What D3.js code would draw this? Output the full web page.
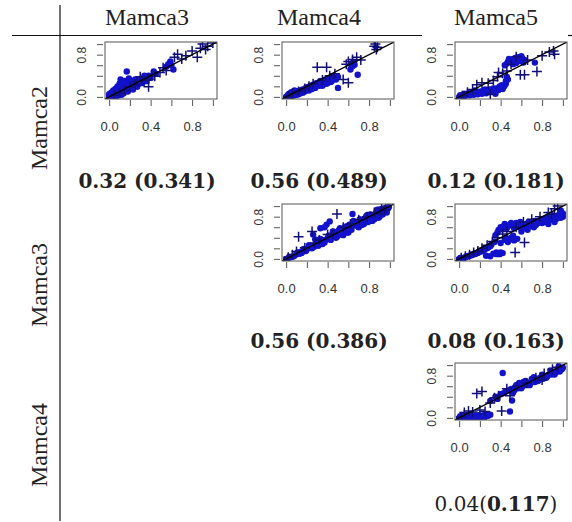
<!doctype html>
<html>
<head>
	<meta charset="UTF-8" />
	<script src="https://d3js.org/d3.v7.min.js"></script>
	<style>
		body { margin: 0; background: #fff; }
		svg { display: block; }
	</style>
</head>
<body>
	<svg id="chart" width="572" height="522"></svg>
	<script>
		(function () {
			"use strict";

			// row / column names of the comparison grid
			const rowNames = ["Mamca2", "Mamca3", "Mamca4"];
			const colNames = ["Mamca3", "Mamca4", "Mamca5"];

			// correlation labels below each panel: [row, col, first part, bold part, last part, first part bold?]
			const corrLabels = [
				[0, 0, "0.32 (", "0.341", ")", true],
				[0, 1, "0.56 (", "0.489", ")", true],
				[0, 2, "0.12 (", "0.181", ")", true],
				[1, 1, "0.56 (", "0.386", ")", true],
				[1, 2, "0.08 (", "0.163", ")", true],
				[2, 2, "0.04(", "0.117", ")", false]
			];

			const xTicks = [0, 0.2, 0.4, 0.6, 0.8, 1.0];
			const xTickLabels = [0, 0.4, 0.8];
			const yTicks = [0, 0.2, 0.4, 0.6, 0.8, 1.0];
			const yTickLabels = [0, 0.8];

			// Mamca2 vs Mamca3
			const m2m3Dots = [[0.00,0.00],[0.01,0.02],[0.02,0.01],[0.03,0.04],[0.04,0.02],[0.05,0.06],[0.06,0.03],[0.07,0.08],[0.08,0.05],[0.09,0.10],[0.10,0.07],[0.11,0.12],[0.12,0.09],[0.13,0.15],[0.14,0.11],[0.15,0.18],[0.16,0.13],[0.02,0.08],[0.04,0.12],[0.06,0.15],[0.08,0.20],[0.10,0.25],[0.11,0.33],[0.13,0.27],[0.17,0.48],[0.15,0.30],[0.18,0.22],[0.20,0.16],[0.22,0.25],[0.24,0.20],[0.26,0.28],[0.28,0.24],[0.30,0.32],[0.19,0.35],[0.21,0.30],[0.33,0.36],[0.36,0.30],[0.38,0.40],[0.45,0.44],[0.59,0.67],[0.62,0.52],[0.57,0.62],[0.00,0.05],[0.03,0.00],[0.07,0.01],[0.12,0.04],[0.18,0.10],[0.23,0.14],[0.27,0.19],[0.32,0.26],[0.01,0.06],[0.03,0.09],[0.05,0.11],[0.07,0.14],[0.09,0.17],[0.12,0.20],[0.14,0.24],[0.16,0.26],[0.19,0.28],[0.02,0.03],[0.05,0.01],[0.09,0.03],[0.11,0.05],[0.14,0.07],[0.17,0.17],[0.20,0.22],[0.23,0.27],[0.25,0.33],[0.29,0.30],[0.34,0.40],[0.40,0.36],[0.43,0.48],[0.55,0.57],[0.60,0.60]];
			const m2m3Plus = [[0.05,0.03],[0.10,0.08],[0.15,0.12],[0.20,0.19],[0.25,0.23],[0.27,0.29],[0.30,0.38],[0.33,0.31],[0.38,0.33],[0.38,0.19],[0.41,0.42],[0.44,0.39],[0.49,0.46],[0.52,0.55],[0.55,0.50],[0.63,0.75],[0.66,0.81],[0.70,0.72],[0.74,0.78],[0.80,0.87],[0.85,0.75],[0.88,0.92],[0.90,1.00],[0.95,0.96],[1.00,1.02],[0.93,0.90]];

			// Mamca2 vs Mamca4
			const m2m4Dots = [[0.00,0.00],[0.01,0.02],[0.02,0.01],[0.03,0.03],[0.04,0.01],[0.05,0.04],[0.06,0.02],[0.07,0.05],[0.08,0.03],[0.09,0.06],[0.10,0.04],[0.11,0.08],[0.12,0.05],[0.13,0.09],[0.14,0.07],[0.15,0.11],[0.16,0.08],[0.17,0.12],[0.18,0.10],[0.20,0.14],[0.22,0.12],[0.23,0.17],[0.25,0.15],[0.27,0.20],[0.28,0.17],[0.30,0.23],[0.32,0.21],[0.34,0.26],[0.36,0.24],[0.38,0.29],[0.40,0.27],[0.42,0.31],[0.44,0.30],[0.46,0.35],[0.48,0.33],[0.50,0.38],[0.03,0.06],[0.05,0.09],[0.08,0.12],[0.50,0.17],[0.62,0.52],[0.66,0.61],[0.69,0.42],[0.64,0.58],[0.02,0.04],[0.04,0.06],[0.06,0.07],[0.09,0.09],[0.11,0.11],[0.13,0.12],[0.16,0.14],[0.19,0.17],[0.21,0.19],[0.24,0.21],[0.26,0.23],[0.29,0.26],[0.31,0.27],[0.33,0.30],[0.37,0.32],[0.41,0.35],[0.45,0.38],[0.35,0.21],[0.39,0.25],[0.43,0.28],[0.65,0.66],[0.63,0.63]];
			const m2m4Plus = [[0.02,0.01],[0.06,0.06],[0.12,0.10],[0.18,0.16],[0.22,0.20],[0.26,0.25],[0.30,0.56],[0.39,0.56],[0.35,0.32],[0.42,0.40],[0.47,0.44],[0.55,0.33],[0.60,0.27],[0.58,0.62],[0.60,0.67],[0.64,0.71],[0.68,0.75],[0.72,0.70],[0.86,1.00],[0.87,0.90],[0.88,0.94],[0.85,0.96]];

			// Mamca2 vs Mamca5
			const m2m5Dots = [[0.00,0.00],[0.02,0.01],[0.04,0.03],[0.06,0.02],[0.08,0.05],[0.10,0.03],[0.12,0.06],[0.14,0.04],[0.16,0.08],[0.18,0.05],[0.20,0.09],[0.22,0.06],[0.24,0.10],[0.26,0.07],[0.28,0.12],[0.30,0.09],[0.32,0.14],[0.34,0.11],[0.36,0.16],[0.38,0.13],[0.40,0.18],[0.42,0.15],[0.44,0.22],[0.45,0.25],[0.43,0.19],[0.46,0.38],[0.47,0.33],[0.44,0.60],[0.47,0.66],[0.50,0.70],[0.52,0.62],[0.54,0.74],[0.56,0.68],[0.58,0.72],[0.60,0.77],[0.62,0.65],[0.63,0.70],[0.73,0.65],[0.05,0.06],[0.15,0.12],[0.25,0.14],[0.35,0.06],[0.01,0.03],[0.05,0.02],[0.09,0.07],[0.11,0.05],[0.13,0.09],[0.17,0.07],[0.19,0.10],[0.21,0.08],[0.23,0.12],[0.27,0.10],[0.29,0.14],[0.31,0.11],[0.33,0.16],[0.37,0.14],[0.39,0.20],[0.41,0.22],[0.45,0.30],[0.46,0.63],[0.49,0.70],[0.51,0.66],[0.53,0.71],[0.55,0.64],[0.57,0.75],[0.59,0.68],[0.61,0.73],[0.48,0.72]];
			const m2m5Plus = [[0.03,0.02],[0.08,0.09],[0.13,0.14],[0.17,0.23],[0.22,0.27],[0.28,0.26],[0.33,0.31],[0.37,0.38],[0.38,0.46],[0.42,0.45],[0.46,0.49],[0.50,0.62],[0.55,0.76],[0.59,0.42],[0.63,0.42],[0.66,0.70],[0.75,0.48],[0.80,0.78],[0.87,0.85],[0.91,0.87],[0.92,0.81],[0.30,0.05]];

			// Mamca3 vs Mamca4
			const m3m4Dots = [[0.00,0.00],[0.02,0.01],[0.04,0.03],[0.06,0.04],[0.08,0.06],[0.10,0.09],[0.12,0.10],[0.14,0.13],[0.16,0.14],[0.18,0.17],[0.20,0.18],[0.22,0.21],[0.24,0.22],[0.26,0.25],[0.28,0.37],[0.30,0.28],[0.32,0.30],[0.34,0.33],[0.36,0.35],[0.38,0.36],[0.39,0.65],[0.42,0.71],[0.40,0.39],[0.42,0.40],[0.44,0.43],[0.46,0.44],[0.48,0.47],[0.50,0.48],[0.52,0.51],[0.54,0.52],[0.56,0.55],[0.58,0.56],[0.60,0.59],[0.62,0.60],[0.64,0.85],[0.64,0.63],[0.66,0.64],[0.68,0.67],[0.70,0.68],[0.72,0.71],[0.74,0.72],[0.76,0.75],[0.78,0.76],[0.80,0.79],[0.82,0.80],[0.84,0.83],[0.86,0.84],[0.88,0.87],[0.90,0.88],[0.92,0.91],[0.94,0.90],[0.96,0.94],[0.98,0.95],[0.48,0.40],[0.55,0.45],[0.60,0.50],[0.70,0.60],[0.75,0.66],[0.85,0.75],[0.90,0.80],[0.35,0.28],[0.25,0.20],[0.15,0.11],[0.45,0.52],[0.52,0.58],[0.65,0.72],[0.78,0.83],[0.88,0.93],[0.30,0.35],[0.22,0.26],[0.03,0.04],[0.07,0.05],[0.11,0.12],[0.13,0.10],[0.17,0.19],[0.19,0.15],[0.23,0.24],[0.27,0.23],[0.29,0.32],[0.31,0.25],[0.33,0.38],[0.37,0.31],[0.41,0.44],[0.43,0.36],[0.47,0.51],[0.49,0.42],[0.51,0.55],[0.53,0.46],[0.57,0.61],[0.59,0.50],[0.61,0.65],[0.63,0.55],[0.67,0.70],[0.69,0.62],[0.71,0.75],[0.73,0.64],[0.77,0.80],[0.79,0.70],[0.81,0.84],[0.83,0.72],[0.87,0.89],[0.89,0.78],[0.91,0.94],[0.93,0.84],[0.95,0.96],[0.97,0.88],[0.99,0.98],[0.26,0.46],[0.33,0.58],[0.37,0.60]];
			const m3m4Plus = [[0.02,0.03],[0.06,0.08],[0.10,0.14],[0.12,0.42],[0.25,0.52],[0.18,0.21],[0.28,0.30],[0.32,0.36],[0.40,0.46],[0.49,0.85],[0.45,0.48],[0.55,0.60],[0.62,0.66],[0.70,0.74],[0.78,0.80],[0.85,0.88],[0.92,0.96],[0.96,0.98],[0.90,0.85],[0.95,0.92]];

			// Mamca3 vs Mamca5
			const m3m5Dots = [[0.00,0.00],[0.03,0.01],[0.06,0.03],[0.09,0.05],[0.12,0.07],[0.15,0.09],[0.18,0.11],[0.21,0.14],[0.24,0.17],[0.27,0.20],[0.30,0.24],[0.33,0.10],[0.36,0.12],[0.39,0.09],[0.42,0.11],[0.40,0.30],[0.44,0.36],[0.47,0.32],[0.50,0.40],[0.53,0.35],[0.56,0.38],[0.35,0.45],[0.38,0.55],[0.40,0.60],[0.43,0.62],[0.46,0.58],[0.49,0.65],[0.52,0.62],[0.55,0.68],[0.58,0.60],[0.61,0.66],[0.64,0.62],[0.67,0.70],[0.70,0.64],[0.73,0.72],[0.76,0.68],[0.79,0.75],[0.82,0.70],[0.85,0.78],[0.88,0.74],[0.91,0.82],[0.94,0.76],[0.97,0.86],[1.00,0.80],[0.98,0.92],[0.92,0.70],[0.86,0.66],[0.60,0.52],[0.66,0.55],[0.72,0.60],[0.30,0.05],[0.26,0.06],[0.01,0.02],[0.04,0.02],[0.07,0.05],[0.10,0.06],[0.13,0.09],[0.16,0.10],[0.19,0.13],[0.22,0.15],[0.25,0.19],[0.28,0.22],[0.31,0.27],[0.34,0.32],[0.37,0.50],[0.41,0.56],[0.44,0.66],[0.47,0.62],[0.50,0.68],[0.53,0.58],[0.56,0.64],[0.59,0.70],[0.62,0.58],[0.65,0.66],[0.68,0.62],[0.71,0.68],[0.74,0.64],[0.77,0.72],[0.80,0.68],[0.83,0.74],[0.86,0.72],[0.89,0.80],[0.92,0.76],[0.95,0.82],[0.98,0.78],[1.00,0.86],[0.45,0.40],[0.52,0.44],[0.48,0.36],[0.36,0.09],[0.40,0.12]];
			const m3m5Plus = [[0.02,0.02],[0.06,0.05],[0.10,0.08],[0.14,0.12],[0.18,0.15],[0.22,0.20],[0.27,0.26],[0.32,0.33],[0.37,0.40],[0.42,0.47],[0.46,0.52],[0.54,0.12],[0.63,0.31],[0.55,0.60],[0.62,0.70],[0.70,0.75],[0.78,0.80],[0.86,0.88],[0.92,0.95],[0.95,1.00],[0.89,0.85]];

			// Mamca4 vs Mamca5
			const m4m5Dots = [[0.00,0.00],[0.02,0.01],[0.04,0.00],[0.06,0.02],[0.08,0.01],[0.10,0.03],[0.12,0.00],[0.14,0.02],[0.16,0.04],[0.18,0.01],[0.20,0.03],[0.22,0.02],[0.24,0.05],[0.26,0.03],[0.28,0.04],[0.30,0.06],[0.42,0.85],[0.51,0.33],[0.49,0.12],[0.45,0.50],[0.50,0.55],[0.54,0.58],[0.58,0.60],[0.62,0.64],[0.66,0.66],[0.70,0.70],[0.74,0.72],[0.78,0.76],[0.82,0.78],[0.86,0.82],[0.90,0.85],[0.94,0.88],[0.97,0.92],[1.00,0.95],[0.52,0.48],[0.60,0.56],[0.68,0.62],[0.76,0.70],[0.84,0.76],[0.92,0.82],[0.35,0.40],[0.40,0.45],[0.55,0.62],[0.64,0.70],[0.72,0.77],[0.88,0.90],[0.96,0.98],[0.30,0.32],[0.01,0.03],[0.03,0.02],[0.05,0.04],[0.07,0.01],[0.09,0.04],[0.11,0.02],[0.13,0.05],[0.15,0.01],[0.17,0.03],[0.19,0.05],[0.21,0.01],[0.23,0.04],[0.25,0.02],[0.27,0.06],[0.48,0.52],[0.53,0.52],[0.57,0.56],[0.61,0.60],[0.65,0.62],[0.69,0.66],[0.73,0.68],[0.77,0.72],[0.81,0.74],[0.85,0.79],[0.89,0.82],[0.93,0.86],[0.97,0.88],[0.99,0.92],[0.58,0.66],[0.62,0.68],[0.70,0.74],[0.80,0.82],[0.37,0.36],[0.43,0.47]];
			const m4m5Plus = [[0.02,0.02],[0.05,0.10],[0.09,0.13],[0.13,0.11],[0.17,0.46],[0.22,0.50],[0.20,0.15],[0.25,0.12],[0.30,0.28],[0.34,0.38],[0.41,0.13],[0.49,0.42],[0.38,0.42],[0.46,0.55],[0.56,0.60],[0.65,0.66],[0.74,0.76],[0.82,0.84],[0.90,0.92],[0.95,0.96],[0.80,0.72]];

			const panels = [
				{ row: 0, col: 0, dots: m2m3Dots, plus: m2m3Plus },
				{ row: 0, col: 1, dots: m2m4Dots, plus: m2m4Plus },
				{ row: 0, col: 2, dots: m2m5Dots, plus: m2m5Plus },
				{ row: 1, col: 1, dots: m3m4Dots, plus: m3m4Plus },
				{ row: 1, col: 2, dots: m3m5Dots, plus: m3m5Plus },
				{ row: 2, col: 2, dots: m4m5Dots, plus: m4m5Plus }
			];

			const svg = d3.select("#chart");
			svg.append("rect").attr("width", 572).attr("height", 522).attr("fill", "#fff");

			// layout of the grid
			const colCenter = [147, 319, 496];
			const boxLeft = [105, 282, 455];
			const boxTop = [42, 204, 363];
			const rowCenter = [128, 285, 445];
			const corrBaseline = [188, 348, 511];
			const boxW = 112, boxH = 57;

			// grid lines of the table
			svg.append("line").attr("x1", 60).attr("x2", 60).attr("y1", 5).attr("y2", 521)
				.attr("stroke", "#111").attr("stroke-width", 1.2);
			svg.append("line").attr("x1", 12).attr("x2", 422).attr("y1", 35.5).attr("y2", 35.5)
				.attr("stroke", "#111").attr("stroke-width", 1.2);
			svg.append("line").attr("x1", 568).attr("x2", 572).attr("y1", 35.5).attr("y2", 35.5)
				.attr("stroke", "#111").attr("stroke-width", 1.2);

			// column headers
			svg.selectAll("text.colHead")
				.data(colNames)
				.enter().append("text")
				.attr("class", "colHead")
				.attr("x", function (d, i) { return colCenter[i]; })
				.attr("y", 25)
				.attr("text-anchor", "middle")
				.attr("font-family", "Liberation Serif, serif")
				.attr("font-size", 24)
				.attr("fill", "#222")
				.text(function (d) { return d; });

			// row headers, rotated
			svg.selectAll("text.rowHead")
				.data(rowNames)
				.enter().append("text")
				.attr("class", "rowHead")
				.attr("transform", function (d, i) { return "translate(47," + rowCenter[i] + ") rotate(-90)"; })
				.attr("text-anchor", "middle")
				.attr("font-family", "Liberation Serif, serif")
				.attr("font-size", 24)
				.attr("fill", "#222")
				.text(function (d) { return d; });

			const fmt = d3.format(".1f");

			panels.forEach(function (p, k) {
				const left = boxLeft[p.col], top = boxTop[p.row];
				const x = d3.scaleLinear().domain([-0.04, 1.04]).range([left, left + boxW]);
				const y = d3.scaleLinear().domain([-0.04, 1.04]).range([top + boxH, top]);

				const g = svg.append("g");

				g.append("clipPath").attr("id", "clip" + k)
					.append("rect").attr("x", left).attr("y", top).attr("width", boxW).attr("height", boxH);

				const plot = g.append("g").attr("clip-path", "url(#clip" + k + ")");

				plot.selectAll("circle")
					.data(p.dots)
					.enter().append("circle")
					.attr("cx", function (d) { return x(d[0]); })
					.attr("cy", function (d) { return y(d[1]); })
					.attr("r", 3.2)
					.attr("fill", "#1212cc");

				plot.selectAll("path.plus")
					.data(p.plus)
					.enter().append("path")
					.attr("class", "plus")
					.attr("d", function (d) {
						const cx = x(d[0]), cy = y(d[1]), s = 5;
						return "M" + (cx - s) + "," + cy + "H" + (cx + s) + "M" + cx + "," + (cy - s) + "V" + (cy + s);
					})
					.attr("stroke", "#101078")
					.attr("stroke-width", 1.5)
					.attr("fill", "none");

				// y = x reference line
				plot.append("line")
					.attr("x1", x(-0.04)).attr("y1", y(-0.04))
					.attr("x2", x(1.04)).attr("y2", y(1.04))
					.attr("stroke", "#000").attr("stroke-width", 1.3);

				g.append("rect")
					.attr("x", left).attr("y", top).attr("width", boxW).attr("height", boxH)
					.attr("fill", "none").attr("stroke", "#555").attr("stroke-width", 1);

				const xAxis = g.append("g")
					.attr("transform", "translate(0," + (top + boxH + 1) + ")")
					.call(d3.axisBottom(x).tickValues(xTicks).tickSize(6).tickPadding(16)
						.tickFormat(function (d) { return xTickLabels.indexOf(d) >= 0 ? fmt(d) : ""; }));
				xAxis.select(".domain").remove();
				xAxis.selectAll("line").attr("stroke", "#555");
				xAxis.selectAll("text").attr("font-family", "Liberation Sans, Arial, sans-serif")
					.attr("font-size", 13).attr("fill", "#333");

				const yAxis = g.append("g")
					.attr("transform", "translate(" + (left - 2) + ",0)")
					.call(d3.axisLeft(y).tickValues(yTicks).tickSize(6).tickPadding(0)
						.tickFormat(function (d) { return yTickLabels.indexOf(d) >= 0 ? fmt(d) : ""; }));
				yAxis.select(".domain").remove();
				yAxis.selectAll("line").attr("stroke", "#555");
				yAxis.selectAll("text")
					.attr("x", null).attr("dy", null)
					.attr("text-anchor", "middle")
					.attr("transform", "translate(-17,0) rotate(-90)")
					.attr("font-family", "Liberation Sans, Arial, sans-serif")
					.attr("font-size", 12).attr("fill", "#333");
			});

			// correlation labels
			corrLabels.forEach(function (c) {
				const t = svg.append("text")
					.attr("x", colCenter[c[1]])
					.attr("y", corrBaseline[c[0]])
					.attr("text-anchor", "middle")
					.attr("font-family", "DejaVu Serif, serif")
					.attr("font-size", 20)
					.attr("fill", "#222");
				t.append("tspan").attr("font-weight", c[5] ? "bold" : "normal").text(c[2]);
				t.append("tspan").attr("font-weight", "bold").text(c[3]);
				t.append("tspan").attr("font-weight", c[5] ? "bold" : "normal").text(c[4]);
			});

		})();
	</script>
</body>
</html>
